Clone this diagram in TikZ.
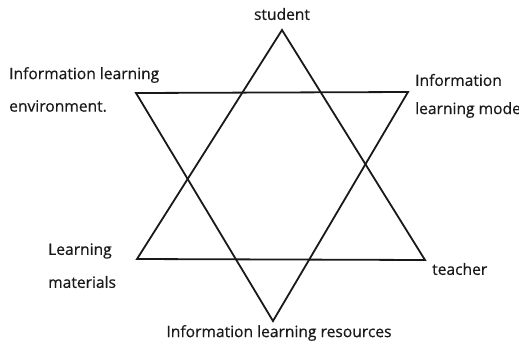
\documentclass[tikz,border=0pt]{standalone}
\usepackage{fontspec}
\newfontfamily\lblfont[FakeBold=0.5]{Open Sans}
\begin{document}
\begin{tikzpicture}[x=1pt,y=-1pt,
  edge/.style={line width=1.8pt,draw=black!90,line join=miter,line cap=round},
  lbl/.style={font=\lblfont\fontsize{15.6}{18}\selectfont,text=black!90,inner sep=0pt}]
\useasboundingbox (0,0) rectangle (519,349);
% upper triangle
\coordinate (T) at (282,30);
\coordinate (BL) at (137,259);
\coordinate (BR) at (425,260);
% lower triangle
\coordinate (TL) at (136,93);
\coordinate (TR) at (408,92);
\coordinate (B) at (273,321);
\draw[edge] (T) -- (BL) -- (BR) -- cycle;
\draw[edge] (TL) -- (TR) -- (B) -- cycle;
\node[lbl] (student) at (282,14) {student};
\node[lbl,anchor=west] (env1) at (9,75) {Information learning};
\node[lbl,anchor=west] (env2) at (9,106) {environment.};
\node[lbl,anchor=west] (mod1) at (415,80) {Information};
\node[lbl,anchor=west] (mod2) at (415,110) {learning mode};
\node[lbl,anchor=west] (mat1) at (48,251) {Learning};
\node[lbl,anchor=west] (mat2) at (48,282) {materials};
\node[lbl,anchor=west] (teacher) at (432,269) {teacher};
\node[lbl] (res) at (279,333) {Information learning resources};
\end{tikzpicture}
\end{document}
